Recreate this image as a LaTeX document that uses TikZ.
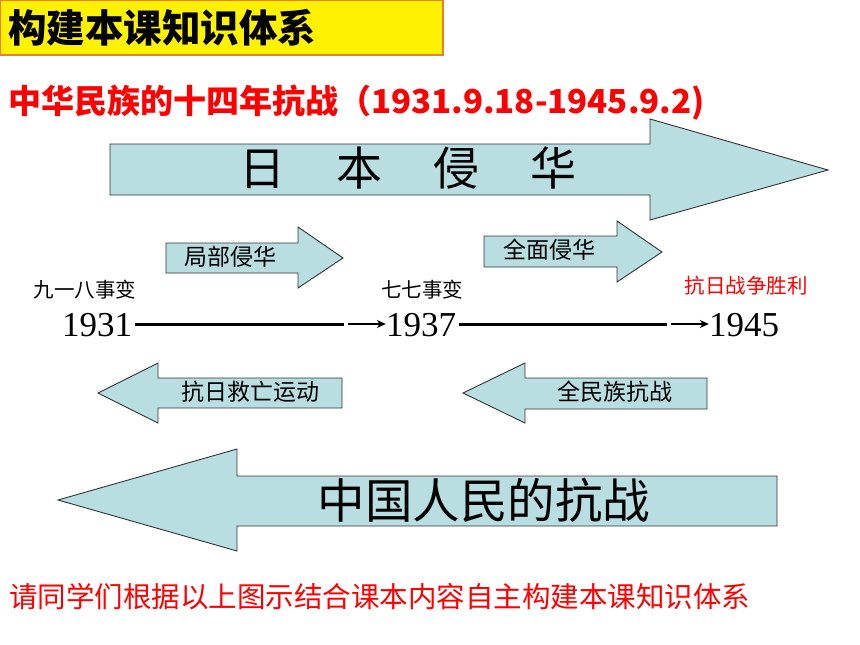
\documentclass[tikz,border=0pt]{standalone}
\usepackage{fontspec}
\usetikzlibrary{arrows.meta,calc}
\newfontfamily\cjk{Noto Sans CJK SC}
\newfontfamily\yr{Liberation Serif}
\definecolor{arrowfill}{RGB}{184,222,226}
\definecolor{boxborder}{RGB}{237,125,49}
\definecolor{redtxt}{RGB}{255,0,0}
\tikzset{
  bigarrow/.style={fill=arrowfill, draw=black!80, line width=0.9pt, line join=miter},
  lbl/.style={inner sep=0pt, anchor=center},
  arrtxt/.style={lbl, font=\cjk\fontsize{23}{23}\selectfont},
  evt/.style={lbl, font=\cjk\fontsize{20.5}{20.5}\selectfont},
  year/.style={lbl, font=\yr\fontsize{35}{35}\selectfont},
  thickline/.style={line width=3pt, black},
  tipline/.style={line width=1.2pt, black, -{Stealth[length=9pt,width=8pt]}}
}
\begin{document}
\begin{tikzpicture}[x=1pt,y=-1pt]
\useasboundingbox (0,0) rectangle (860,645);
\fill[white] (0,0) rectangle (860,645);
% title box
\draw[fill=yellow, draw=boxborder, line width=1.2pt] (0.6,0.6) rectangle (443,55);
\node[lbl, anchor=west, font=\cjk\bfseries\fontsize{38.5}{38.5}\selectfont] (title) at (8,28) {构建本课知识体系};
% subtitle
\node[lbl, anchor=west, text=redtxt, font=\cjk\bfseries\fontsize{33}{33}\selectfont] (sub) at (8,103) {中华民族的十四年抗战（1931.9.18-1945.9.2)};
% top big arrow
\draw[bigarrow] (110,144) -- (650,144) -- (650,119) -- (828,170) -- (650,220) -- (650,195) -- (110,195) -- cycle;
\node[lbl, font=\cjk\fontsize{46}{46}\selectfont] (jp) at (408,168) {日\hspace{51pt}本\hspace{51pt}侵\hspace{51pt}华};
% small arrows top
\draw[bigarrow] (166,243) -- (298,243) -- (298,227) -- (343,258) -- (298,288) -- (298,273) -- (166,273) -- cycle;
\node[arrtxt] (jubu) at (230,257) {局部侵华};
\draw[bigarrow] (484,236) -- (617,236) -- (617,221) -- (662,252) -- (617,282) -- (617,267) -- (484,267) -- cycle;
\node[arrtxt] (quanmian) at (549,250) {全面侵华};
% events
\node[evt] (e1) at (85,290) {九一八事变};
\node[evt] (e2) at (422,290) {七七事变};
\node[evt, text=redtxt] (e3) at (746,286) {抗日战争胜利};
% years
\node[year] (y1) at (97,325) {1931};
\node[year] (y2) at (421,325) {1937};
\node[year] (y3) at (744,325) {1945};
\coordinate (m1) at (344,324);
\coordinate (m2) at (667,324);
\draw[thickline] (y1.east |- m1) ++(3,0) -- (m1);
\draw[tipline] ($(m1)+(4,0)$) -- (y2.west |- m1);
\draw[thickline] (y2.east |- m2) ++(3,0) -- (m2);
\draw[tipline] ($(m2)+(4,0)$) -- (y3.west |- m2);
% small arrows bottom
\draw[bigarrow] (342,378) -- (158,378) -- (158,363) -- (98,393) -- (158,423) -- (158,408) -- (342,408) -- cycle;
\node[arrtxt] (jiuwang) at (250,392) {抗日救亡运动};
\draw[bigarrow] (707,378) -- (525,378) -- (525,363) -- (463,393) -- (525,423) -- (525,409) -- (707,409) -- cycle;
\node[arrtxt] (quanminzu) at (615,392) {全民族抗战};
% bottom big arrow
\draw[bigarrow] (777,476) -- (237,476) -- (237,449) -- (58,500) -- (237,551) -- (237,526) -- (777,526) -- cycle;
\node[lbl, font=\cjk\fontsize{47.5}{47.5}\selectfont] (cn) at (484,500) {中国人民的抗战};
% bottom text
\node[lbl, anchor=west, text=redtxt, font=\cjk\fontsize{28.5}{28.5}\selectfont] (note) at (9,597) {请同学们根据以上图示结合课本内容自主构建本课知识体系};
\end{tikzpicture}
\end{document}
